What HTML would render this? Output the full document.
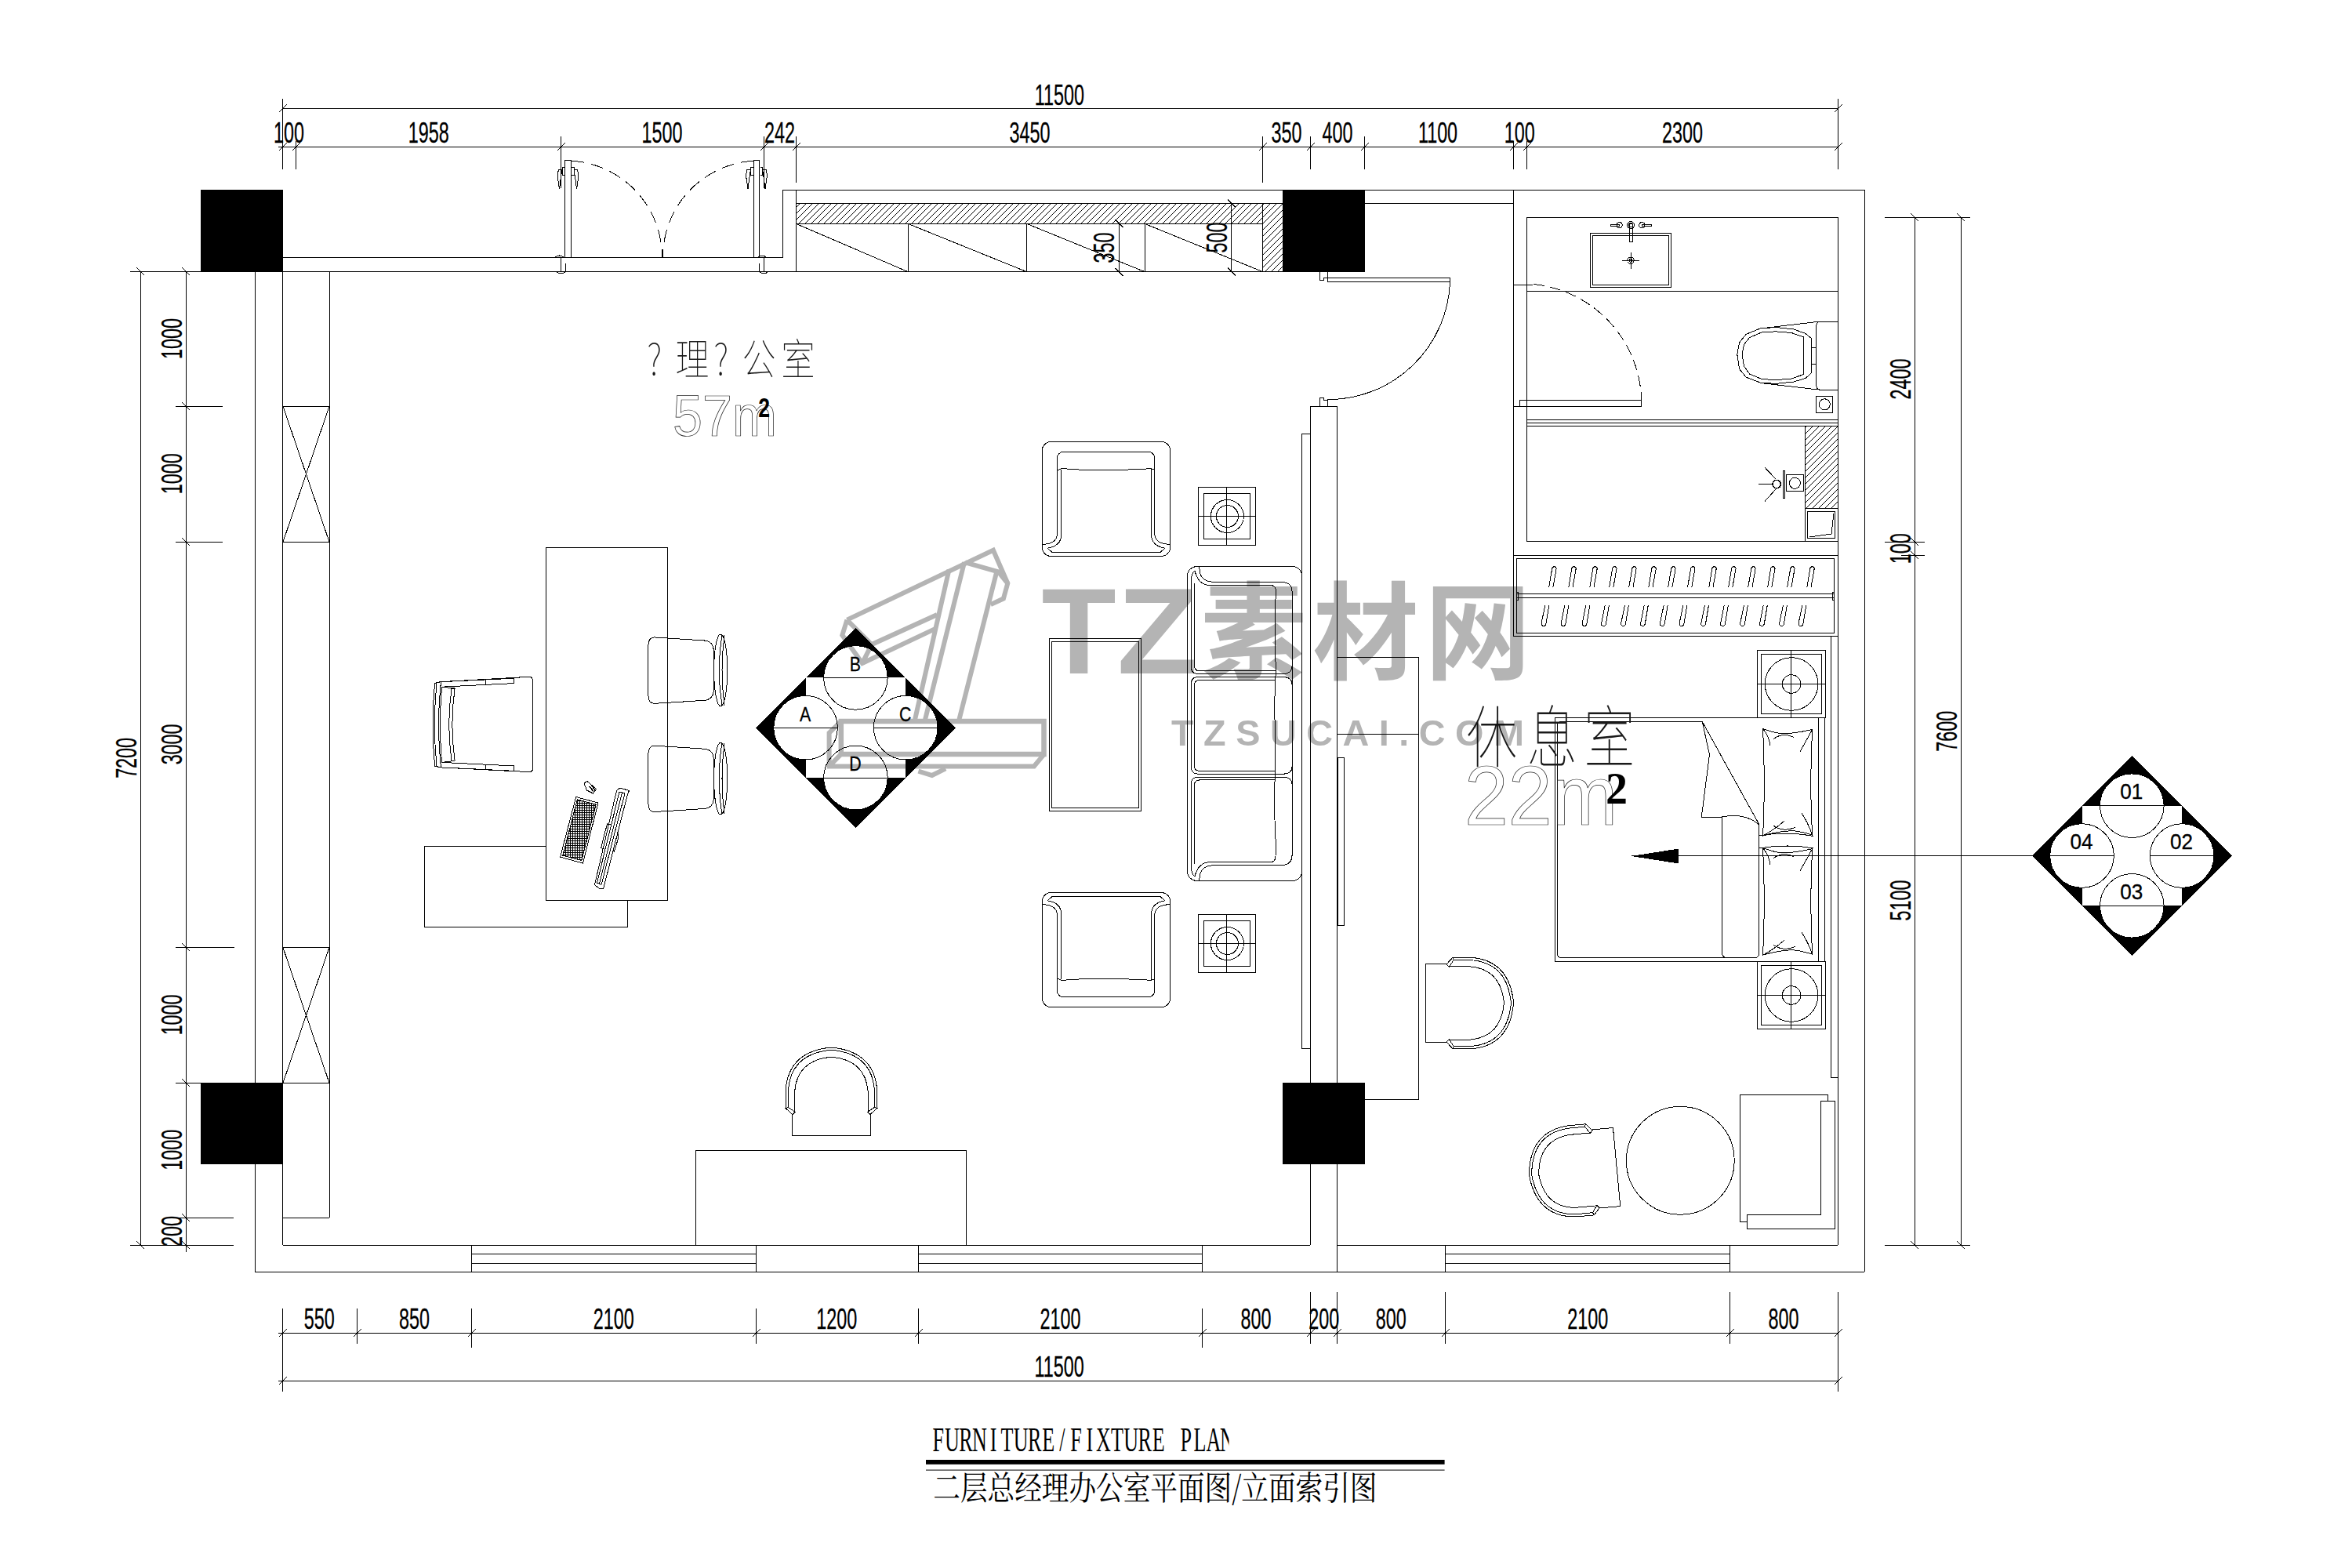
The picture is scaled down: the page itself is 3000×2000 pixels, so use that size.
<!DOCTYPE html>
<html lang="zh"><head><meta charset="utf-8"><title>二层总经理办公室平面图</title>
<style>
html,body{margin:0;padding:0;background:#fff}
body{width:3000px;height:2000px;overflow:hidden}
svg{display:block}
.g path,.g rect,.g circle,.g ellipse,.g polyline,.g polygon,.g line{fill:none;stroke:#000;stroke-width:1;shape-rendering:crispEdges}
.d{font-family:"Liberation Sans",sans-serif;text-anchor:middle;fill:#000;stroke:#000;stroke-width:.3}
.g .t{stroke-width:1.3}
.g .w{fill:#fff}
.g .k{fill:#000;stroke:none}
.thin{font-family:"Noto Sans CJK SC","Liberation Sans",sans-serif;font-weight:100;fill:#1a1a1a;stroke:none}
.ol{font-family:"Liberation Sans",sans-serif;fill:none;stroke:#222;stroke-width:.75}
</style></head><body>
<svg width="3000" height="2000" viewBox="0 0 3000 2000">
<defs>
<pattern id="h" width="8" height="8" patternUnits="userSpaceOnUse"><path d="M-2 10L10 -2M-2 2L2 -2M6 10L10 6" stroke="#000" stroke-width="1" fill="none"/></pattern>
<pattern id="kb" width="3" height="3" patternUnits="userSpaceOnUse"><path d="M0 1.5H3M1.5 0V3" stroke="#000" stroke-width="1.1"/></pattern>
<clipPath id="cpt"><rect x="1100" y="1800" width="467.5" height="70"/></clipPath>
</defs>
<rect width="3000" height="2000" fill="#fff"/>
<g class="g">
<rect x="256" y="242" width="105" height="105" class="k"/>
<rect x="1636" y="242" width="105" height="105" class="k"/>
<rect x="256" y="1381" width="105" height="104" class="k"/>
<rect x="1636" y="1381" width="105" height="104" class="k"/>
<path d="M360.7 328.5H998.7"/>
<path d="M998.5 242.4V328.3"/>
<path d="M998.7 242.5H1636.3"/>
<path d="M1740.5 242.5H2378.4"/>
<path d="M360.7 346.5H1636.3"/>
<path d="M1015.5 242.4V346.7"/>
<path d="M2378.5 242.4V1622.3"/>
<path d="M325.4 1622.5H2378.4"/>
<path d="M325.5 346.7V1622.3"/>
<path d="M360.5 346.7V1588.3"/>
<path d="M420.5 346.7V1553.4"/>
<path d="M360.7 1588.5H1671.3"/>
<path d="M1705.4 1588.5H2344.4"/>
<path d="M1671.5 518.3V1588.3"/>
<path d="M1705.5 518.3V1622.3"/>
<path d="M1671.3 518.5H1705.4"/>
<path d="M1671.5 553.5H1660.5V1337.5H1671.5"/>
<path d="M2344.5 277.4V1588.3"/>
<path d="M1740.5 259.5H1930.5"/>
<path d="M1930.5 242.4V811.3"/>
<rect x="1947.5" y="277.5" width="397" height="413"/>
<path d="M1947.3 371.5H2344.4"/>
<path d="M1930.5 363.5H1954.7"/>
<rect x="1938.5" y="510.5" width="155" height="8"/>
<path d="M1930.5 518.5H1938.2"/>
<path d="M1956 362.5A153 153 0 0 1 2093.5 505" stroke-dasharray="14 7"/>
<path d="M2093.5 503V510.3"/>
<path d="M1947.3 535.5H2344.4"/>
<path d="M1947.3 539.5H2344.4"/>
<path d="M1947.3 543.5H2344.4"/>
<path d="M2302.5 543.4V690.9"/>
<rect x="2302.5" y="543.5" width="42" height="105" style="fill:url(#h)"/>
<rect x="2305.5" y="652.5" width="35" height="34"/>
<path d="M2308 685L2336 681L2339 655"/>
<rect x="1930.5" y="708.5" width="414" height="103"/>
<rect x="1934.5" y="712.5" width="405" height="95"/>
<path d="M1934.4 757.5H2339.6"/>
<path d="M1934.4 762.5H2339.6"/>
<rect x="1934.5" y="755.5" width="2" height="10"/>
<rect x="2337.5" y="755.5" width="2" height="10"/>
<path d="M1975.71 749L1979.71 725.5A2.6 2.6 0 0 1 1985.11 725.5L1980.91 749"/>
<path d="M1970.78 772L1966.08 795A2.8 2.8 0 0 0 1971.78 796L1975.78 772"/>
<path d="M2000.79 749L2004.79 725.5A2.6 2.6 0 0 1 2010.19 725.5L2005.99 749"/>
<path d="M1995.86 772L1991.16 795A2.8 2.8 0 0 0 1996.86 796L2000.86 772"/>
<path d="M2027.79 749L2031.79 725.5A2.6 2.6 0 0 1 2037.19 725.5L2032.99 749"/>
<path d="M2022.86 772L2018.16 795A2.8 2.8 0 0 0 2023.86 796L2027.86 772"/>
<path d="M2052.66 749L2056.66 725.5A2.6 2.6 0 0 1 2062.06 725.5L2057.86 749"/>
<path d="M2047.31 772L2042.61 795A2.8 2.8 0 0 0 2048.31 796L2052.31 772"/>
<path d="M2077.75 749L2081.75 725.5A2.6 2.6 0 0 1 2087.15 725.5L2082.95 749"/>
<path d="M2072.39 772L2067.69 795A2.8 2.8 0 0 0 2073.39 796L2077.39 772"/>
<path d="M2102.83 749L2106.83 725.5A2.6 2.6 0 0 1 2112.23 725.5L2108.03 749"/>
<path d="M2097.27 772L2092.57 795A2.8 2.8 0 0 0 2098.27 796L2102.27 772"/>
<path d="M2127.71 749L2131.71 725.5A2.6 2.6 0 0 1 2137.11 725.5L2132.91 749"/>
<path d="M2122.14 772L2117.44 795A2.8 2.8 0 0 0 2123.14 796L2127.14 772"/>
<path d="M2152.58 749L2156.58 725.5A2.6 2.6 0 0 1 2161.98 725.5L2157.78 749"/>
<path d="M2146.8 772L2142.1 795A2.8 2.8 0 0 0 2147.8 796L2151.8 772"/>
<path d="M2179.79 749L2183.79 725.5A2.6 2.6 0 0 1 2189.19 725.5L2184.99 749"/>
<path d="M2174.44 772L2169.74 795A2.8 2.8 0 0 0 2175.44 796L2179.44 772"/>
<path d="M2204.66 749L2208.66 725.5A2.6 2.6 0 0 1 2214.06 725.5L2209.86 749"/>
<path d="M2199.31 772L2194.61 795A2.8 2.8 0 0 0 2200.31 796L2204.31 772"/>
<path d="M2229.75 749L2233.75 725.5A2.6 2.6 0 0 1 2239.15 725.5L2234.95 749"/>
<path d="M2224.39 772L2219.69 795A2.8 2.8 0 0 0 2225.39 796L2229.39 772"/>
<path d="M2254.62 749L2258.62 725.5A2.6 2.6 0 0 1 2264.02 725.5L2259.82 749"/>
<path d="M2249.27 772L2244.57 795A2.8 2.8 0 0 0 2250.27 796L2254.27 772"/>
<path d="M2279.7 749L2283.7 725.5A2.6 2.6 0 0 1 2289.1 725.5L2284.9 749"/>
<path d="M2274.35 772L2269.65 795A2.8 2.8 0 0 0 2275.35 796L2279.35 772"/>
<path d="M2304.79 749L2308.79 725.5A2.6 2.6 0 0 1 2314.19 725.5L2309.99 749"/>
<path d="M2298.8 772L2294.1 795A2.8 2.8 0 0 0 2299.8 796L2303.8 772"/>
<path d="M2335.5 811.5V1374.5H2344.5"/>
<path d="M601.5 1588.3V1622.3"/>
<path d="M964.5 1588.3V1622.3"/>
<path d="M601.2 1599.5H964.3"/>
<path d="M601.2 1611.5H964.3"/>
<path d="M1171.5 1588.3V1622.3"/>
<path d="M1533.5 1588.3V1622.3"/>
<path d="M1171.3 1599.5H1533.2"/>
<path d="M1171.3 1611.5H1533.2"/>
<path d="M1843.5 1588.3V1622.3"/>
<path d="M2206.5 1588.3V1622.3"/>
<path d="M1843.5 1599.5H2206.6"/>
<path d="M1843.5 1611.5H2206.6"/>
<path d="M360.7 518.5H420.2"/>
<path d="M360.7 691.5H420.2"/>
<path d="M360.7 1208.5H420.2"/>
<path d="M360.7 1381.5H420.2"/>
<path d="M360.7 1553.5H420.2"/>
<path d="M361 518.3L420 691.2"/>
<path d="M420 518.3L361 691.2"/>
<path d="M361 1208.7L420 1381.2"/>
<path d="M420 1208.7L361 1381.2"/>
<path d="M1016 259.5H1636.5V346.5H1611V285.5H1016Z" style="fill:url(#h);stroke:none"/>
<path d="M1015.5 259.5H1636.3"/>
<path d="M1015.5 285.5H1610.9"/>
<path d="M1610.5 259.3V346.7"/>
<path d="M1158.5 285.4V346.7"/>
<path d="M1309.5 285.4V346.7"/>
<path d="M1460.5 285.4V346.7"/>
<path d="M1015.5 285.4L1158.2 346.7"/>
<path d="M1158.2 285.4L1309.7 346.7"/>
<path d="M1309.7 285.4L1460.2 346.7"/>
<path d="M1460.2 285.4L1610.9 346.7"/>
<path d="M1427.5 285.4V346.7"/>
<path d="M1422.5 280.4L1432.5 290.4" class="t"/>
<path d="M1422.5 341.7L1432.5 351.7" class="t"/>
<path d="M1570.5 259.3V346.7"/>
<path d="M1565.8 254.3L1575.8 264.3" class="t"/>
<path d="M1565.8 341.7L1575.8 351.7" class="t"/>
<text transform="translate(1420.7 316) rotate(-90) scale(0.64 1)" class="d" font-size="36.5">350</text>
<text transform="translate(1565.3 303) rotate(-90) scale(0.64 1)" class="d" font-size="36.5">500</text>
<rect x="720.5" y="204.5" width="8" height="124"/>
<rect x="961.5" y="204.5" width="7" height="124"/>
<path d="M729 205.2A123 123 0 0 1 844.5 328" stroke-dasharray="16 9"/>
<path d="M961 205.2A123 123 0 0 0 845.5 328" stroke-dasharray="16 9"/>
<path d="M720 213h-3v10h3M729 213h3v10h-3"/>
<path d="M717 216h-4.5l-1.5 8l2.5 17l1.5 -12z"/>
<path d="M732 216h4.5l1.5 8l-2.5 17l-1.5 -12z"/>
<path d="M960.5 213h-3v10h3M969.5 213h3v10h-3"/>
<path d="M957.5 216h-4.5l-1.5 8l2.5 17l1.5 -12z"/>
<path d="M972.5 216h4.5l1.5 8l-2.5 17l-1.5 -12z"/>
<path d="M708.5 328q5 -4 10 0M710.5 347q5 4 10 0M715.5 328V347M721.5 336V347"/>
<path d="M967.2 328q5 -4 10 0M969.2 347q5 4 10 0M974.2 328V347M968.2 336V347"/>
<path d="M1683.5 346.5V357.5H1688.5V354.5H1693.5V346.5"/>
<rect x="1693.5" y="354.5" width="156" height="5"/>
<path d="M1849.5 359.8A155.6 155.6 0 0 1 1693.4 509.6"/>
<path d="M1683.5 518.5V507.5H1688.5V510H1693.5V518.5"/>
<path d="M360.7 138.5H2344.5"/>
<path d="M355 187.5H2344.5"/>
<path d="M360.5 125.5V216"/>
<path d="M355.5 143.5L365.5 133.5" class="t"/>
<path d="M2344.5 125.5V216"/>
<path d="M2339.5 143.5L2349.5 133.5" class="t"/>
<path d="M355.5 192.5L365.5 182.5" class="t"/>
<path d="M372.5 192.5L382.5 182.5" class="t"/>
<path d="M710.5 192.5L720.5 182.5" class="t"/>
<path d="M969.5 192.5L979.5 182.5" class="t"/>
<path d="M1010.5 192.5L1020.5 182.5" class="t"/>
<path d="M1605.5 192.5L1615.5 182.5" class="t"/>
<path d="M1666.5 192.5L1676.5 182.5" class="t"/>
<path d="M1735.5 192.5L1745.5 182.5" class="t"/>
<path d="M1925.5 192.5L1935.5 182.5" class="t"/>
<path d="M1942.5 192.5L1952.5 182.5" class="t"/>
<path d="M2339.5 192.5L2349.5 182.5" class="t"/>
<path d="M377.5 180V216"/>
<path d="M715.5 174.4V240"/>
<path d="M974.5 174.4V240"/>
<path d="M1015.5 174.4V233"/>
<path d="M1610.5 174.4V233"/>
<path d="M1671.5 174.4V216"/>
<path d="M1740.5 174.4V216"/>
<path d="M1930.5 180V216"/>
<path d="M1947.5 180V216"/>
<text transform="translate(368.6 182.1) scale(0.64 1)" class="d" font-size="36.5">100</text>
<text transform="translate(546.7 182.1) scale(0.64 1)" class="d" font-size="36.5">1958</text>
<text transform="translate(844.5 182.1) scale(0.64 1)" class="d" font-size="36.5">1500</text>
<text transform="translate(994.5 182.1) scale(0.64 1)" class="d" font-size="36.5">242</text>
<text transform="translate(1313.5 182.1) scale(0.64 1)" class="d" font-size="36.5">3450</text>
<text transform="translate(1641 182.1) scale(0.64 1)" class="d" font-size="36.5">350</text>
<text transform="translate(1706 182.1) scale(0.64 1)" class="d" font-size="36.5">400</text>
<text transform="translate(1834 182.1) scale(0.64 1)" class="d" font-size="36.5">1100</text>
<text transform="translate(1938.3 182.1) scale(0.64 1)" class="d" font-size="36.5">100</text>
<text transform="translate(2146 182.1) scale(0.64 1)" class="d" font-size="36.5">2300</text>
<text transform="translate(1351.3 134) scale(0.64 1)" class="d" font-size="36.5">11500</text>
<path d="M355 1700.5H2344.4"/>
<path d="M355 1761.5H2344.4"/>
<path d="M355.5 1705.5L365.5 1695.5" class="t"/>
<path d="M450.5 1705.5L460.5 1695.5" class="t"/>
<path d="M596.5 1705.5L606.5 1695.5" class="t"/>
<path d="M959.5 1705.5L969.5 1695.5" class="t"/>
<path d="M1166.5 1705.5L1176.5 1695.5" class="t"/>
<path d="M1528.5 1705.5L1538.5 1695.5" class="t"/>
<path d="M1666.5 1705.5L1676.5 1695.5" class="t"/>
<path d="M1700.5 1705.5L1710.5 1695.5" class="t"/>
<path d="M1838.5 1705.5L1848.5 1695.5" class="t"/>
<path d="M2201.5 1705.5L2211.5 1695.5" class="t"/>
<path d="M2339.5 1705.5L2349.5 1695.5" class="t"/>
<path d="M355.5 1766.5L365.5 1756.5" class="t"/>
<path d="M2339.5 1766.5L2349.5 1756.5" class="t"/>
<path d="M360.5 1668.6V1774.9"/>
<path d="M455.5 1668.6V1713.7"/>
<path d="M601.5 1668.6V1718.8"/>
<path d="M964.5 1668.6V1713.7"/>
<path d="M1171.5 1668.6V1713.7"/>
<path d="M1533.5 1668.6V1718.8"/>
<path d="M1671.5 1647.8V1713.7"/>
<path d="M1705.5 1647.8V1713.7"/>
<path d="M1843.5 1647.8V1713.7"/>
<path d="M2206.5 1647.8V1713.7"/>
<path d="M2344.5 1647.8V1774.9"/>
<text transform="translate(407.3 1695) scale(0.64 1)" class="d" font-size="36.5">550</text>
<text transform="translate(528.5 1695) scale(0.64 1)" class="d" font-size="36.5">850</text>
<text transform="translate(782.7 1695) scale(0.64 1)" class="d" font-size="36.5">2100</text>
<text transform="translate(1067.2 1695) scale(0.64 1)" class="d" font-size="36.5">1200</text>
<text transform="translate(1352.5 1695) scale(0.64 1)" class="d" font-size="36.5">2100</text>
<text transform="translate(1602 1695) scale(0.64 1)" class="d" font-size="36.5">800</text>
<text transform="translate(1688.8 1695) scale(0.64 1)" class="d" font-size="36.5">200</text>
<text transform="translate(1774.2 1695) scale(0.64 1)" class="d" font-size="36.5">800</text>
<text transform="translate(2025.3 1695) scale(0.64 1)" class="d" font-size="36.5">2100</text>
<text transform="translate(2275.1 1695) scale(0.64 1)" class="d" font-size="36.5">800</text>
<text transform="translate(1351.2 1755.9) scale(0.64 1)" class="d" font-size="36.5">11500</text>
<path d="M179.5 346.7V1588.3"/>
<path d="M237.5 346.7V1597"/>
<path d="M165.8 346.5H256"/>
<path d="M165.8 1588.5H297.6"/>
<path d="M174.5 341.5L184.5 351.5" class="t"/>
<path d="M174.5 1583.5L184.5 1593.5" class="t"/>
<path d="M232.5 341.5L242.5 351.5" class="t"/>
<path d="M232.5 513.5L242.5 523.5" class="t"/>
<path d="M232.5 686.5L242.5 696.5" class="t"/>
<path d="M232.5 1203.5L242.5 1213.5" class="t"/>
<path d="M232.5 1376.5L242.5 1386.5" class="t"/>
<path d="M232.5 1548.5L242.5 1558.5" class="t"/>
<path d="M232.5 1583.5L242.5 1593.5" class="t"/>
<path d="M224 518.5H283.8"/>
<path d="M224 691.5H283.8"/>
<path d="M224 1208.5H298.6"/>
<path d="M224 1381.5H256"/>
<path d="M224 1553.5H297.6"/>
<text transform="translate(231.8 432) rotate(-90) scale(0.64 1)" class="d" font-size="36.5">1000</text>
<text transform="translate(231.8 604.2) rotate(-90) scale(0.64 1)" class="d" font-size="36.5">1000</text>
<text transform="translate(231.8 949.4) rotate(-90) scale(0.64 1)" class="d" font-size="36.5">3000</text>
<text transform="translate(231.8 1294.4) rotate(-90) scale(0.64 1)" class="d" font-size="36.5">1000</text>
<text transform="translate(231.8 1466.7) rotate(-90) scale(0.64 1)" class="d" font-size="36.5">1000</text>
<text transform="translate(231.8 1570.4) rotate(-90) scale(0.64 1)" class="d" font-size="36.5">200</text>
<text transform="translate(173.8 966.9) rotate(-90) scale(0.64 1)" class="d" font-size="36.5">7200</text>
<path d="M2442.5 277.3V1588.3"/>
<path d="M2501.5 277.3V1588.3"/>
<path d="M2404 277.5H2513.4"/>
<path d="M2404 1588.5H2513.4"/>
<path d="M2437.5 272.5L2447.5 282.5" class="t"/>
<path d="M2437.5 686.5L2447.5 696.5" class="t"/>
<path d="M2437.5 703.5L2447.5 713.5" class="t"/>
<path d="M2437.5 1583.5L2447.5 1593.5" class="t"/>
<path d="M2496.5 272.5L2506.5 282.5" class="t"/>
<path d="M2496.5 1583.5L2506.5 1593.5" class="t"/>
<path d="M2404 691.5H2455"/>
<path d="M2425 708.5H2455"/>
<text transform="translate(2437 483.6) rotate(-90) scale(0.64 1)" class="d" font-size="36.5">2400</text>
<text transform="translate(2437 699.7) rotate(-90) scale(0.64 1)" class="d" font-size="36.5">100</text>
<text transform="translate(2437 1148.5) rotate(-90) scale(0.64 1)" class="d" font-size="36.5">5100</text>
<text transform="translate(2495.7 932.8) rotate(-90) scale(0.64 1)" class="d" font-size="36.5">7600</text>
<rect x="696.5" y="698.5" width="155" height="450"/>
<path d="M696.5 1079.5H541.5V1182.5H800.5V1148.5"/>
<path d="M560 869.8L676.9 863.2L679.7 866.7V981.6L676.9 984.7L560 978.8"/>
<path d="M560 869.8L655.6 865.2V871.6L563.5 876.2"/>
<path d="M560 978.8L655.6 983.3V977L563.5 972.4"/>
<path d="M619 867V873.5M619 981.5V975"/>
<path d="M554.6 871.4L562.4 869.8Q556.5 924 562.4 978.8L554.6 977.2Q549.5 924 554.6 871.4Z"/>
<path d="M557 871Q551.8 924 557 977.6"/>
<path d="M563.5 876.2Q559.5 924 563.5 972.4"/>
<path d="M576 878.5Q569.5 924 576 970M580.1 878.3Q573.6 924 580.1 970.2M576 878.5L580.1 878.3M576 970L580.1 970.2"/>
<path d="M563.5 876.2L580 878M563.5 972.4L580 970.4"/>
<path d="M834 812.9L900 817.1Q909.5 818.9 910.3 828.9V881.4Q909.5 891.4 900 893.2L834 897.4Q827.5 896.9 827 887.9Q825.3 854.9 827 822.4Q827.5 813.4 834 812.9Z"/>
<ellipse cx="919.2" cy="854.9" rx="8.6" ry="46"/>
<path d="M921 809.4Q913.5 854.9 921 900.4M924 810.3Q918 854.9 924 899.5"/>
<path d="M834 951.1L900 955.3Q909.5 957.1 910.3 967.1V1019.6Q909.5 1029.6 900 1031.4L834 1035.6Q827.5 1035.1 827 1026.1Q825.3 993.1 827 960.6Q827.5 951.6 834 951.1Z"/>
<ellipse cx="919.2" cy="993.1" rx="8.6" ry="46"/>
<path d="M921 947.6Q913.5 993.1 921 1038.6M924 948.5Q918 993.1 924 1037.7"/>
<polygon points="734.7,1016.5 763,1024.1 743.4,1101 714.6,1093.2"/>
<polygon points="736.3,1019.8 760.2,1026.2 741.8,1097.6 717.8,1091.2" style="fill:url(#kb)"/>
<polygon points="786.5,1008.5 790.5,1005.2 802.5,1008.3 800.5,1013 769.5,1134 764.5,1133.5 758.5,1128.5"/>
<path d="M790 1010L797 1012L767 1128.5L761.5 1126Z"/>
<path d="M793.5 1011L764.5 1127"/>
<path d="M779 1052L774.5 1050.8L766.5 1081.6L771 1082.8"/>
<path d="M787.5 1061L789 1068L783.5 1086L781 1085"/>
<polygon points="745,999 749,996.5 760.5,1006.5 756.5,1012 748.5,1008"/>
<path d="M752 1003L757 1009.5M754.5 1001.2L759 1008" style="stroke-width:1.6"/>
<path transform="translate(1329.2 563.4)" d="M11.5 0H152A11.5 11.5 0 0 1 163.5 11.5V134.6A11.5 11.5 0 0 1 152 146.1H11.5A11.5 11.5 0 0 1 0 134.6V11.5A11.5 11.5 0 0 1 11.5 0ZM19.2 41V20.9A8 8 0 0 1 27.2 12.9H135.5A8 8 0 0 1 143.5 20.9V118Q144.5 130.5 163.3 131M19.2 41V118Q18.5 130.5 0.3 131M24.4 36V119.5Q24 133 6.8 135.8L12.5 140.8H151L156.8 135.8Q140 133 139.5 119.5V34.6M19.2 37L24.4 34.4Q30 34.2 37 35.3Q50 35.8 66 36Q80 36.6 100 36Q110 35.5 126 35.2Q133 34.4 139.5 34.4L143.5 36"/>
<path transform="translate(1329.2 1284.6) scale(1 -1)" d="M11.5 0H152A11.5 11.5 0 0 1 163.5 11.5V134.6A11.5 11.5 0 0 1 152 146.1H11.5A11.5 11.5 0 0 1 0 134.6V11.5A11.5 11.5 0 0 1 11.5 0ZM19.2 41V20.9A8 8 0 0 1 27.2 12.9H135.5A8 8 0 0 1 143.5 20.9V118Q144.5 130.5 163.3 131M19.2 41V118Q18.5 130.5 0.3 131M24.4 36V119.5Q24 133 6.8 135.8L12.5 140.8H151L156.8 135.8Q140 133 139.5 119.5V34.6M19.2 37L24.4 34.4Q30 34.2 37 35.3Q50 35.8 66 36Q80 36.6 100 36Q110 35.5 126 35.2Q133 34.4 139.5 34.4L143.5 36"/>
<rect x="1528.5" y="621.5" width="73" height="74"/>
<rect x="1535.5" y="629.5" width="59" height="58"/>
<path d="M1528.5 658.5H1601.6"/>
<path d="M1564.5 621.4V695.4"/>
<circle cx="1565.4" cy="658.5" r="21"/>
<circle cx="1565.4" cy="658.5" r="14"/>
<rect x="1528.5" y="1166.5" width="73" height="74"/>
<rect x="1535.5" y="1174.5" width="59" height="58"/>
<path d="M1528.5 1203.5H1601.6"/>
<path d="M1564.5 1166.6V1240.6"/>
<circle cx="1565.4" cy="1203.5" r="21"/>
<circle cx="1565.4" cy="1203.5" r="14"/>
<rect x="1338.5" y="814.5" width="117" height="220"/>
<rect x="1341.5" y="818.5" width="111" height="212"/>
<rect x="1514.5" y="722.5" width="146" height="401" rx="12"/>
<path d="M1530 723.5Q1529 741.5 1548 742.4H1634Q1647.5 742.4 1648 754V1091.5Q1647.5 1103.5 1634 1103.7H1548Q1529 1104.5 1530 1123"/>
<path d="M1524 728Q1528.5 746.5 1543 746.5H1620Q1627.5 746.5 1627.5 754M1524 1118Q1528.5 1099.8 1543 1099.8H1620Q1627 1099.8 1627 1092"/>
<path d="M1524 728Q1519.5 731 1519.5 740V851Q1519.5 859.5 1528 859.5H1637Q1647.5 859.5 1648 850"/>
<path d="M1523.3 744V848.5Q1523.3 855.8 1530.5 855.8H1626.5"/>
<path d="M1528 863.6H1637Q1647.8 863.6 1648 873M1648 978Q1647.8 987.1 1637 987.1H1528Q1519.5 987.1 1519.5 978.5V872Q1519.5 863.6 1528 863.6"/>
<path d="M1530.5 867.3H1626.5M1626.5 983.4H1530.5Q1523.3 983.4 1523.3 976V874.5Q1523.3 867.3 1530.5 867.3"/>
<path d="M1524 1118Q1519.5 1115 1519.5 1106V999.5Q1519.5 991.2 1528 991.2H1637Q1647.5 991.2 1648 1000"/>
<path d="M1523.3 1102V1002Q1523.3 994.9 1530.5 994.9H1626.5"/>
<path d="M1627.5 754Q1625.5 790 1626.2 830Q1628 850 1626.6 870Q1625.2 900 1626.4 930Q1627.6 960 1626.2 990Q1625 1030 1626.5 1060Q1627.8 1080 1627 1092"/>
<path transform="translate(1060.4 1336)" d="M-58.3 77.6V55Q-55 5 0 0Q55 5 58.3 55V77.6M-55 76.4V55Q-52 8 0 3.2Q52 8 55 55V76.4M-46.6 83V55Q-43 16 0 12.2Q43 16 46.6 55V83M-58.3 77.6L-49.6 85.5L-46 82.4L-55 76.4ZM58.3 77.6L49.6 85.5L46 82.4L55 76.4ZM-50.1 85.5V112.1H50.4V85.5"/>
<path transform="translate(1930.6 1279.5) rotate(90)" d="M-58.3 77.6V55Q-55 5 0 0Q55 5 58.3 55V77.6M-55 76.4V55Q-52 8 0 3.2Q52 8 55 55V76.4M-46.6 83V55Q-43 16 0 12.2Q43 16 46.6 55V83M-58.3 77.6L-49.6 85.5L-46 82.4L-55 76.4ZM58.3 77.6L49.6 85.5L46 82.4L55 76.4ZM-50.1 85.5V112.1H50.4V85.5"/>
<path transform="translate(1950.5 1499) rotate(-95.3)" d="M-58.3 77.6V55Q-55 5 0 0Q55 5 58.3 55V77.6M-55 76.4V55Q-52 8 0 3.2Q52 8 55 55V76.4M-46.6 83V55Q-43 16 0 12.2Q43 16 46.6 55V83M-58.3 77.6L-49.6 85.5L-46 82.4L-55 76.4ZM58.3 77.6L49.6 85.5L46 82.4L55 76.4ZM-50.1 85.5V112.1H50.4V85.5"/>
<path d="M887.5 1588.5V1467.5H1232.5V1588.5"/>
<path d="M1705.5 838.5H1809.5V1402.5H1705.5"/>
<path d="M1705.4 936.5H1809"/>
<rect x="1706.5" y="966.5" width="8" height="214"/>
<circle cx="2143.3" cy="1480.3" r="68.9"/>
<path d="M2322.5 1549.5V1404.5H2340.5V1567.5H2228.5V1549.5Z"/>
<path d="M2331.5 1404.5V1396.5H2219.5V1558.5H2228.5"/>
<rect x="2028.5" y="297.5" width="103" height="69"/>
<rect x="2031.5" y="300.5" width="97" height="63"/>
<circle cx="2080" cy="332.2" r="4.2"/>
<circle cx="2080" cy="332.2" r="2"/>
<path d="M2069 332.5H2091"/>
<path d="M2080.5 321.5V343"/>
<rect x="2078.5" y="285.5" width="4" height="23"/>
<circle cx="2080" cy="287.2" r="4.5"/>
<circle cx="2080" cy="287.2" r="2.6"/>
<circle cx="2065.6" cy="287.2" r="3.6"/>
<circle cx="2094.4" cy="287.2" r="3.6"/>
<path d="M2054 286.3H2065.6V288.4H2054ZM2106 286.3H2094.4V288.4H2106Z"/>
<path d="M2344.4 410H2321Q2316.6 411 2316.6 417V490Q2316.6 496.5 2321 497.2H2344.4"/>
<path d="M2246 419L2319 410.3M2246 488.5L2319 497"/>
<polygon points="2215.8,452 2218.5,437 2227,426.5 2245,419 2265,417.5 2288,420 2303,425.5 2310.3,431.5 2310.3,476 2303,482.5 2288,487 2265,489.4 2245,488 2227,481 2218.5,470.5"/>
<polygon points="2222,452 2224.5,439.5 2231.5,430.5 2247,424 2265,422.8 2285,424.5 2300.8,430 2300.8,477.5 2285,483 2265,484.7 2247,483.5 2231.5,477 2224.5,467"/>
<path d="M2310.3 443.4H2316.6M2310.3 464.4H2316.6"/>
<rect x="2316.5" y="505.5" width="21" height="21"/>
<circle cx="2327.3" cy="515.8" r="7"/>
<circle cx="2266.2" cy="617.5" r="5.2" style="stroke-width:1.5"/>
<path d="M2243 617.5H2261M2251 596.2L2265.5 611.5M2251 639.4L2265.5 623.5"/>
<rect x="2274.5" y="600.5" width="2" height="35"/>
<rect x="2278.5" y="605.5" width="22" height="21"/>
<circle cx="2289.4" cy="616.3" r="7"/>
<rect x="1983.5" y="915.5" width="344" height="311"/>
<path d="M2319.5 915.6V1226"/>
<path d="M2171.3 920.5H1992Q1986.5 920.5 1986.5 926V1216Q1986.5 1221.5 1992 1221.5H2200"/>
<path d="M2171.3 920.5L2244 1052"/>
<path d="M2171.3 920.5L2180.5 962.5L2170.3 1042H2196.5Q2225 1036 2244 1052"/>
<path d="M2196.5 1042V1214Q2196.5 1221.5 2202 1221.5H2238Q2243.5 1221.5 2243.5 1216V1052"/>
<path d="M2248.6 929.5Q2270 937.5 2280 935.5Q2295 934.5 2311.6 930.5Q2308 998.5 2311.6 1065.1Q2290 1058.1 2280 1060.1Q2265 1061.1 2248.6 1066.1Q2252 998.5 2248.6 929.5Z"/>
<path d="M2248.6 929.5Q2256 938.5 2258 950.5M2311.6 930.5Q2303 946.5 2296 958.5M2248.6 1066.1Q2262 1059.1 2276 1047.1M2311.6 1065.1Q2306 1049.1 2298 1037.1M2262 942.5Q2275 933.5 2288 940.5M2262 1053.1Q2275 1062.1 2290 1055.1"/>
<path d="M2248.6 1081.6Q2270 1089.6 2280 1087.6Q2295 1086.6 2311.6 1082.6Q2308 1150.6 2311.6 1217.2Q2290 1210.2 2280 1212.2Q2265 1213.2 2248.6 1218.2Q2252 1150.6 2248.6 1081.6Z"/>
<path d="M2248.6 1081.6Q2256 1090.6 2258 1102.6M2311.6 1082.6Q2303 1098.6 2296 1110.6M2248.6 1218.2Q2262 1211.2 2276 1199.2M2311.6 1217.2Q2306 1201.2 2298 1189.2M2262 1094.6Q2275 1085.6 2288 1092.6M2262 1205.2Q2275 1214.2 2290 1207.2"/>
<path d="M2243.5 1066Q2280 1060 2313 1066.5M2243.5 1082Q2280 1076 2313 1082"/>
<rect x="2241.5" y="829.5" width="87" height="86"/>
<rect x="2246.5" y="834.5" width="77" height="76"/>
<path d="M2241.3 872.5H2328.6"/>
<path d="M2284.5 829.4V915"/>
<circle cx="2285.1" cy="872.5" r="33.8"/>
<circle cx="2285.1" cy="872.5" r="11.8"/>
<rect x="2241.5" y="1226.5" width="87" height="86"/>
<rect x="2246.5" y="1231.5" width="77" height="76"/>
<path d="M2241.3 1269.5H2328.6"/>
<path d="M2284.5 1226.7V1312.3"/>
<circle cx="2285.1" cy="1269.5" r="33.8"/>
<circle cx="2285.1" cy="1269.5" r="11.8"/>
<path d="M2081 1091.5H2592.5"/>
<polygon points="2081,1092 2141,1082.5 2141,1101.5" class="k"/>
<g transform="translate(1091.4 928.2)">
<polygon points="0,-127.5 127.5,0 0,127.5 -127.5,0" class="k"/>
<rect x="-63.8" y="-63.8" width="127.6" height="127.6" style="fill:#fff;stroke:none"/>
<circle cx="0" cy="-63.8" r="40.8" class="w"/>
<path d="M-40.8 -63.8H40.8"/>
<circle cx="63.8" cy="0" r="40.8" class="w"/>
<path d="M23.0 0H104.6"/>
<circle cx="0" cy="63.8" r="40.8" class="w"/>
<path d="M-40.8 63.8H40.8"/>
<circle cx="-63.8" cy="0" r="40.8" class="w"/>
<path d="M-104.6 0H-23.0"/>
<text transform="translate(-0.5 -72.4) scale(0.82 1)" class="d" font-size="26">B</text>
<text transform="translate(63.3 -8.6) scale(0.82 1)" class="d" font-size="26">C</text>
<text transform="translate(-0.5 55.2) scale(0.82 1)" class="d" font-size="26">D</text>
<text transform="translate(-64.3 -8.6) scale(0.82 1)" class="d" font-size="26">A</text>
</g>
<g transform="translate(2719.3 1091.5)">
<polygon points="0,-127.5 127.5,0 0,127.5 -127.5,0" class="k"/>
<rect x="-63.8" y="-63.8" width="127.6" height="127.6" style="fill:#fff;stroke:none"/>
<circle cx="0" cy="-63.8" r="40.8" class="w"/>
<path d="M-40.8 -63.8H40.8"/>
<circle cx="63.8" cy="0" r="40.8" class="w"/>
<path d="M23.0 0H104.6"/>
<circle cx="0" cy="63.8" r="40.8" class="w"/>
<path d="M-40.8 63.8H40.8"/>
<circle cx="-63.8" cy="0" r="40.8" class="w"/>
<path d="M-104.6 0H-23.0"/>
<text transform="translate(-0.5 -72.4) scale(0.95 1)" class="d" font-size="27.5">01</text>
<text transform="translate(63.3 -8.6) scale(0.95 1)" class="d" font-size="27.5">02</text>
<text transform="translate(-0.5 55.2) scale(0.95 1)" class="d" font-size="27.5">03</text>
<text transform="translate(-64.3 -8.6) scale(0.95 1)" class="d" font-size="27.5">04</text>
</g>
</g>
<g>
<text transform="translate(0 478.3) scale(0.78 1)" x="1058.3 1104.5 1167.3 1213.5 1277.6" font-size="55" class="thin">?理?公室</text>
<text transform="translate(858 555.5) scale(0.93 1)" font-size="73.5" class="ol">57m</text>
<text transform="translate(967.2 531.8) scale(0.75 1)" font-size="35.5" style="font-family:'Liberation Sans',sans-serif;font-weight:bold">2</text>
<text transform="translate(0 972.3) scale(0.75 1)" x="2494.1 2596.8 2694.1" font-size="86" class="thin">休息室</text>
<text transform="translate(1868 1051.6) scale(0.93 1)" font-size="108" class="ol">22m</text>
<text x="2048" y="1025.4" font-size="56" style="font-family:'Liberation Serif',serif;font-weight:bold">2</text>
<g clip-path="url(#cpt)"><text transform="translate(1196.8 1850.5) scale(0.6 1)" x="0.00 29.27 58.53 87.80 117.07 146.33 175.60 204.87 234.13 263.40 292.67 321.93 351.20 380.47 409.73 439.00 468.27 497.53 526.80 556.07 585.33 614.60" font-size="43.5" text-anchor="middle" style="font-family:'Liberation Serif',serif">FURNITURE/FIXTURE PLAN</text></g>
<rect x="1181" y="1862" width="661.6" height="5.8" fill="#000"/>
<rect x="1181" y="1874.6" width="661.6" height="1" fill="#000"/>
<text transform="translate(1190.3 1912.5) scale(0.815 1)" font-size="42.5" style="font-family:'Noto Serif CJK SC','Liberation Serif',serif">二层总经理办公室平面图/立面索引图</text>
</g>
<g style="mix-blend-mode:multiply" fill="#b4b4b4" stroke="none">
<g fill="none" stroke="#b4b4b4" stroke-width="6" stroke-linejoin="miter">
<path d="M1080.4 790.6L1266.9 701.7L1285.3 744.0L1279.9 763.5L1263.6 771.1"/>
<path d="M1231.1 717.3L1273.4 729.4L1285.3 744.0"/>
<path d="M1210.5 726.6L1167.1 917.5M1230.0 717.3L1180.1 917.5M1271.6 728.1L1223.5 917.5"/>
<path d="M1080.4 790.6L1074.3 810.1L1099.9 845.9L1194.2 801.4M1082.5 792.8L1111.8 822.1L1195.3 784.1M1111.8 822.1L1099.9 845.9"/>
<path stroke-width="6.5" d="M1072.8 920.1H1331.5V962.0H1072.8Z"/>
<path d="M1072.8 920.1L1057.6 934.8V977.5H1318.9L1331.9 961.9M1057.6 977.5L1072.8 961.9"/>
<path d="M1171.4 983.6L1188.8 989.0L1206.1 980.4"/>
</g>
<text x="1328.6" y="859.3" font-size="155.8" style="font-family:'Liberation Sans',sans-serif;font-weight:bold">T</text>
<text transform="translate(1424.8 859.3) scale(1.08 1)" font-size="155.8" style="font-family:'Liberation Sans',sans-serif;font-weight:bold">Z</text>
<text x="1531.5" y="856" font-size="135" letter-spacing="8" style="font-family:'Noto Sans CJK SC',sans-serif;font-weight:bold">素材网</text>
<text x="1494" y="951.3" font-size="46.8" textLength="450" lengthAdjust="spacing" style="font-family:'Liberation Sans',sans-serif;font-weight:bold">TZSUCAI.COM</text>
</g>
</svg></body></html>
